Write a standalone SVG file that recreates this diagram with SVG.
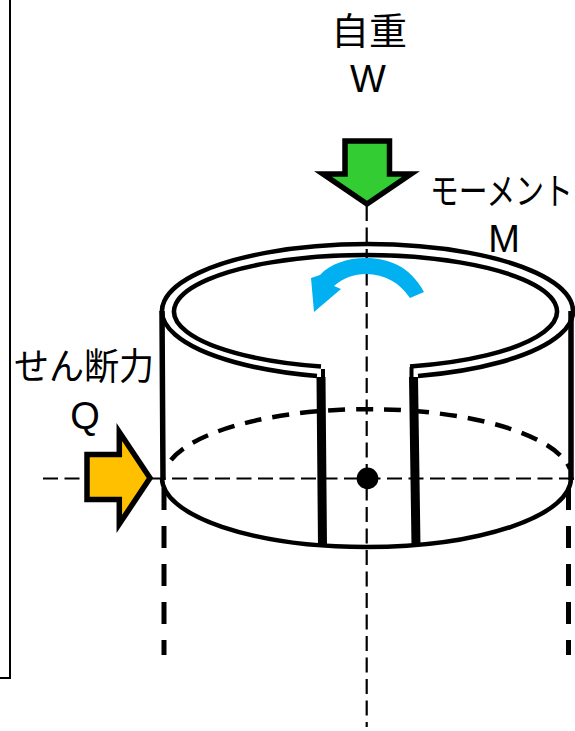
<svg xmlns="http://www.w3.org/2000/svg" width="575" height="731" viewBox="0 0 575 731">
<style>
text{font-family:"Liberation Sans","Noto Sans CJK JP",sans-serif;font-size:37px;fill:#000}
.ln{font-size:38px;text-anchor:middle}
.o{fill:none;stroke:#000;stroke-width:4.5}
.c{fill:none;stroke:#000;stroke-width:2.2;stroke-dasharray:15 6.500}
.a{stroke:#000;stroke-width:5.500;stroke-miterlimit:10}
</style>
<rect width="575" height="731" fill="#fff"/>
<path id="frame" d="M10 0V678H0" fill="none" stroke="#000" stroke-width="2"/>
<g id="connectors">
<path class="c" d="M366.700 206V727"/>
<path class="c" d="M43 478.500H575"/>
</g>
<g id="cylinder">
<path class="o" d="M317 376A205.500 67 0 1 1 418 376"/>
<path class="o" d="M321 366.500A191.500 56.500 0 1 1 410 366.500"/>
<path class="o" style="stroke-width:5.500" d="M162 311L163 480M571 311V480"/>
<path class="o" style="stroke-width:4" d="M323 369V380M411.500 367V380"/>
<path class="o" style="stroke-width:9" d="M321 377L322.500 546M413.500 377L416 546"/>
<path class="o" d="M162 478A204.500 69 0 0 0 571 478"/>
<path class="o" style="stroke-dasharray:17 11" d="M171 460A204 69 0 0 1 570 469"/>
<path class="o" style="stroke-width:5;stroke-dasharray:22 16" d="M164 488V655M568.500 488V655"/>
<circle cx="367.500" cy="478.400" r="10.800" fill="#000"/>
</g>
<g id="moment-arrow">
<path d="M424 292C410 266 388 258 366 258C347 258 330 264 320 275L311 278L314 312L341 289L334 286C343 278 354 274 366 274C385 274 400 283 410 298Z" fill="#00b0f0"/>
</g>
<g id="weight-arrow">
<path class="a" d="M345 141H389.500V174H411L367 204L323 174H345Z" fill="#33cc33"/>
</g>
<g id="shear-arrow">
<path class="a" d="M87 454.500H119.300V432L150 478L119.300 524V499.500H87Z" fill="#ffc000"/>
</g>
<g id="label-w"><text x="331" y="45" textLength="76" lengthAdjust="spacingAndGlyphs">自重</text><text class="ln" x="368" y="92">W</text></g>
<g id="label-m"><text transform="translate(430 205) scale(.778 1)">モーメント</text><text class="ln" x="504" y="252">M</text></g>
<g id="label-q"><text x="14" y="380" textLength="140" lengthAdjust="spacingAndGlyphs">せん断力</text><text class="ln" x="85" y="429">Q</text></g>
</svg>
